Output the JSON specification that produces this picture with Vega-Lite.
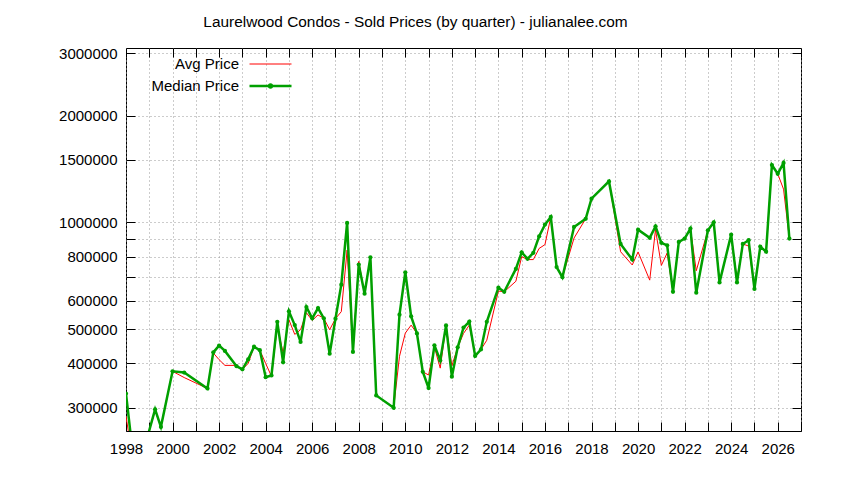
{
  "$schema": "https://vega.github.io/schema/vega-lite/v6.json",
  "width": 675,
  "height": 383,
  "autosize": "none",
  "padding": {"left": 126, "top": 48, "right": 43, "bottom": 49},
  "background": "white",
  "title": {
    "text": "Laurelwood Condos - Sold Prices (by quarter) - julianalee.com",
    "font": "Liberation Sans",
    "fontSize": 15.4,
    "fontWeight": "normal",
    "color": "black",
    "anchor": "middle",
    "frame": "group",
    "baseline": "alphabetic",
    "dx": -48,
    "offset": 4
  },
  "data": {
    "values": [
      {"t": 1998.0, "avg": 284000, "med": 329000},
      {"t": 1998.25, "avg": 223000, "med": 236000},
      {"t": 1998.5, "avg": 215000, "med": 220000},
      {"t": 1998.75, "avg": 226000, "med": 226000},
      {"t": 1999.25, "avg": 295000, "med": 297000},
      {"t": 1999.5, "avg": 266000, "med": 265000},
      {"t": 2000.0, "avg": 380000, "med": 380000},
      {"t": 2000.5, "avg": 365000, "med": 377000},
      {"t": 2001.5, "avg": 340000, "med": 340000},
      {"t": 2001.75, "avg": 428000, "med": 430000},
      {"t": 2002.0, "avg": 410000, "med": 449000},
      {"t": 2002.25, "avg": 395000, "med": 434000},
      {"t": 2002.75, "avg": 395000, "med": 393000},
      {"t": 2003.0, "avg": 385000, "med": 385000},
      {"t": 2003.25, "avg": 400000, "med": 411000},
      {"t": 2003.5, "avg": 446000, "med": 446000},
      {"t": 2003.75, "avg": 436000, "med": 436000},
      {"t": 2004.0, "avg": 400000, "med": 366000},
      {"t": 2004.25, "avg": 368000, "med": 370000},
      {"t": 2004.5, "avg": 510000, "med": 524000},
      {"t": 2004.75, "avg": 428000, "med": 403000},
      {"t": 2005.0, "avg": 531000, "med": 561000},
      {"t": 2005.25, "avg": 483000, "med": 513000},
      {"t": 2005.5, "avg": 498000, "med": 460000},
      {"t": 2005.75, "avg": 556000, "med": 577000},
      {"t": 2006.0, "avg": 529000, "med": 536000},
      {"t": 2006.25, "avg": 548000, "med": 573000},
      {"t": 2006.5, "avg": 536000, "med": 536000},
      {"t": 2006.75, "avg": 498000, "med": 426000},
      {"t": 2007.0, "avg": 535000, "med": 535000},
      {"t": 2007.25, "avg": 560000, "med": 667000},
      {"t": 2007.5, "avg": 835000, "med": 996000},
      {"t": 2007.75, "avg": 431000, "med": 431000},
      {"t": 2008.0, "avg": 776000, "med": 760000},
      {"t": 2008.25, "avg": 629000, "med": 629000},
      {"t": 2008.5, "avg": 797000, "med": 797000},
      {"t": 2008.75, "avg": 325000, "med": 325000},
      {"t": 2009.5, "avg": 300000, "med": 300000},
      {"t": 2009.75, "avg": 419000, "med": 549000},
      {"t": 2010.0, "avg": 487000, "med": 723000},
      {"t": 2010.25, "avg": 513000, "med": 543000},
      {"t": 2010.5, "avg": 486000, "med": 486000},
      {"t": 2010.75, "avg": 379000, "med": 379000},
      {"t": 2011.0, "avg": 371000, "med": 341000},
      {"t": 2011.25, "avg": 445000, "med": 450000},
      {"t": 2011.5, "avg": 388000, "med": 408000},
      {"t": 2011.75, "avg": 512000, "med": 512000},
      {"t": 2012.0, "avg": 394000, "med": 367000},
      {"t": 2012.25, "avg": 444000, "med": 444000},
      {"t": 2012.5, "avg": 486000, "med": 505000},
      {"t": 2012.75, "avg": 513000, "med": 525000},
      {"t": 2013.0, "avg": 420000, "med": 420000},
      {"t": 2013.25, "avg": 438000, "med": 438000},
      {"t": 2013.5, "avg": 465000, "med": 524000},
      {"t": 2014.0, "avg": 640000, "med": 654000},
      {"t": 2014.25, "avg": 637000, "med": 637000},
      {"t": 2014.75, "avg": 682000, "med": 739000},
      {"t": 2015.0, "avg": 800000, "med": 823000},
      {"t": 2015.25, "avg": 785000, "med": 789000},
      {"t": 2015.5, "avg": 785000, "med": 820000},
      {"t": 2015.75, "avg": 844000, "med": 913000},
      {"t": 2016.0, "avg": 865000, "med": 985000},
      {"t": 2016.25, "avg": 1035000, "med": 1035000},
      {"t": 2016.5, "avg": 748000, "med": 748000},
      {"t": 2016.75, "avg": 700000, "med": 700000},
      {"t": 2017.25, "avg": 903000, "med": 970000},
      {"t": 2017.75, "avg": 1023000, "med": 1023000},
      {"t": 2018.0, "avg": 1166000, "med": 1166000},
      {"t": 2018.75, "avg": 1304000, "med": 1304000},
      {"t": 2019.25, "avg": 826000, "med": 869000},
      {"t": 2019.75, "avg": 758000, "med": 785000},
      {"t": 2020.0, "avg": 825000, "med": 953000},
      {"t": 2020.5, "avg": 687000, "med": 904000},
      {"t": 2020.75, "avg": 953000, "med": 974000},
      {"t": 2021.0, "avg": 756000, "med": 875000},
      {"t": 2021.25, "avg": 819000, "med": 861000},
      {"t": 2021.5, "avg": 637000, "med": 637000},
      {"t": 2021.75, "avg": 880000, "med": 880000},
      {"t": 2022.0, "avg": 900000, "med": 900000},
      {"t": 2022.25, "avg": 960000, "med": 960000},
      {"t": 2022.5, "avg": 730000, "med": 633000},
      {"t": 2023.0, "avg": 949000, "med": 949000},
      {"t": 2023.25, "avg": 1000000, "med": 1000000},
      {"t": 2023.5, "avg": 677000, "med": 677000},
      {"t": 2024.0, "avg": 923000, "med": 923000},
      {"t": 2024.25, "avg": 690000, "med": 677000},
      {"t": 2024.5, "avg": 869000, "med": 869000},
      {"t": 2024.75, "avg": 857000, "med": 890000},
      {"t": 2025.0, "avg": 649000, "med": 649000},
      {"t": 2025.25, "avg": 854000, "med": 854000},
      {"t": 2025.5, "avg": 826000, "med": 826000},
      {"t": 2025.75, "avg": 1450000, "med": 1450000},
      {"t": 2026.0, "avg": 1370000, "med": 1370000},
      {"t": 2026.25, "avg": 1240000, "med": 1470000},
      {"t": 2026.5, "avg": 900000, "med": 900000}
    ]
  },
  "transform": [{"fold": ["avg", "med"], "as": ["series", "price"]}],
  "layer": [
    {
      "mark": {"type": "line", "clip": true},
      "encoding": {
        "x": {
          "field": "t",
          "type": "quantitative",
          "scale": {"domain": [1998, 2027], "nice": false, "zero": false},
          "axis": {
            "orient": "bottom",
            "title": null,
            "values": [1998, 1999, 2000, 2001, 2002, 2003, 2004, 2005, 2006, 2007, 2008, 2009, 2010, 2011, 2012, 2013, 2014, 2015, 2016, 2017, 2018, 2019, 2020, 2021, 2022, 2023, 2024, 2025, 2026, 2027],
            "labelExpr": "datum.value % 2 == 0 && datum.value < 2027 ? format(datum.value, 'd') : ''",
            "labelOverlap": false,
            "labelFlush": false,
            "grid": true,
            "domain": false,
            "tickSize": -9,
            "labelPadding": 19
          }
        },
        "y": {
          "field": "price",
          "type": "quantitative",
          "scale": {"type": "log", "domain": [258000, 3100000], "nice": false, "zero": false},
          "axis": {
            "orient": "left",
            "title": null,
            "values": [300000, 400000, 500000, 600000, 700000, 800000, 900000, 1000000, 1500000, 2000000, 3000000],
            "labelExpr": "datum.value == 700000 || datum.value == 900000 ? '' : format(datum.value, 'd')",
            "labelOverlap": false,
            "labelFlush": false,
            "grid": true,
            "domain": false,
            "tickSize": -9,
            "labelPadding": 18
          }
        },
        "color": {
          "field": "series",
          "type": "nominal",
          "scale": {"domain": ["avg", "med"], "range": ["#ff0000", "#00a000"]},
          "legend": {
            "title": null,
            "labelExpr": "datum.value == 'avg' ? 'Avg Price' : 'Median Price'",
            "encode": {
              "symbols": {
                "update": {
                  "shape": {"signal": "datum.value == 'med' ? 'M-3,0H3M-0.2,0A0.2,0.2,0,1,1,0.2,0A0.2,0.2,0,1,1,-0.2,0' : 'M-3,0H3'"}
                }
              }
            }
          }
        },
        "strokeWidth": {
          "field": "series",
          "type": "nominal",
          "scale": {"domain": ["avg", "med"], "range": [1, 2.5]},
          "legend": {
            "title": null,
            "labelExpr": "datum.value == 'avg' ? 'Avg Price' : 'Median Price'"
          }
        }
      }
    },
    {
      "transform": [{"filter": "datum.series == 'med'"}],
      "mark": {"type": "point", "filled": true, "size": 18, "opacity": 1, "color": "#00a000", "clip": true},
      "encoding": {
        "x": {
          "field": "t",
          "type": "quantitative",
          "axis": {
            "orient": "top",
            "title": null,
            "values": [1998, 1999, 2000, 2001, 2002, 2003, 2004, 2005, 2006, 2007, 2008, 2009, 2010, 2011, 2012, 2013, 2014, 2015, 2016, 2017, 2018, 2019, 2020, 2021, 2022, 2023, 2024, 2025, 2026, 2027],
            "labels": false,
            "grid": false,
            "domain": false,
            "tickSize": -9
          }
        },
        "y": {
          "field": "price",
          "type": "quantitative",
          "axis": {
            "orient": "right",
            "title": null,
            "values": [300000, 400000, 500000, 600000, 700000, 800000, 900000, 1000000, 1500000, 2000000, 3000000],
            "labels": false,
            "grid": false,
            "domain": false,
            "tickSize": -9
          }
        }
      }
    }
  ],
  "resolve": {"axis": {"x": "independent", "y": "independent"}},
  "config": {
    "font": "Liberation Sans",
    "view": {"stroke": "black", "strokeWidth": 1},
    "axis": {
      "labelFont": "Liberation Sans",
      "labelFontSize": 15,
      "labelColor": "black",
      "tickColor": "black",
      "tickWidth": 1,
      "gridColor": "#999999",
      "gridDash": [1, 3],
      "gridWidth": 1,
      "gridOpacity": 1
    },
    "legend": {
      "orient": "none",
      "legendX": 136,
      "legendY": 8.5,
      "padding": 0,
      "labelFont": "Liberation Sans",
      "labelFontSize": 15,
      "labelColor": "black",
      "labelAlign": "right",
      "labelOffset": -40,
      "symbolSize": 196,
      "symbolOffset": 0,
      "rowPadding": 5,
      "symbolFillColor": "transparent"
    }
  }
}
